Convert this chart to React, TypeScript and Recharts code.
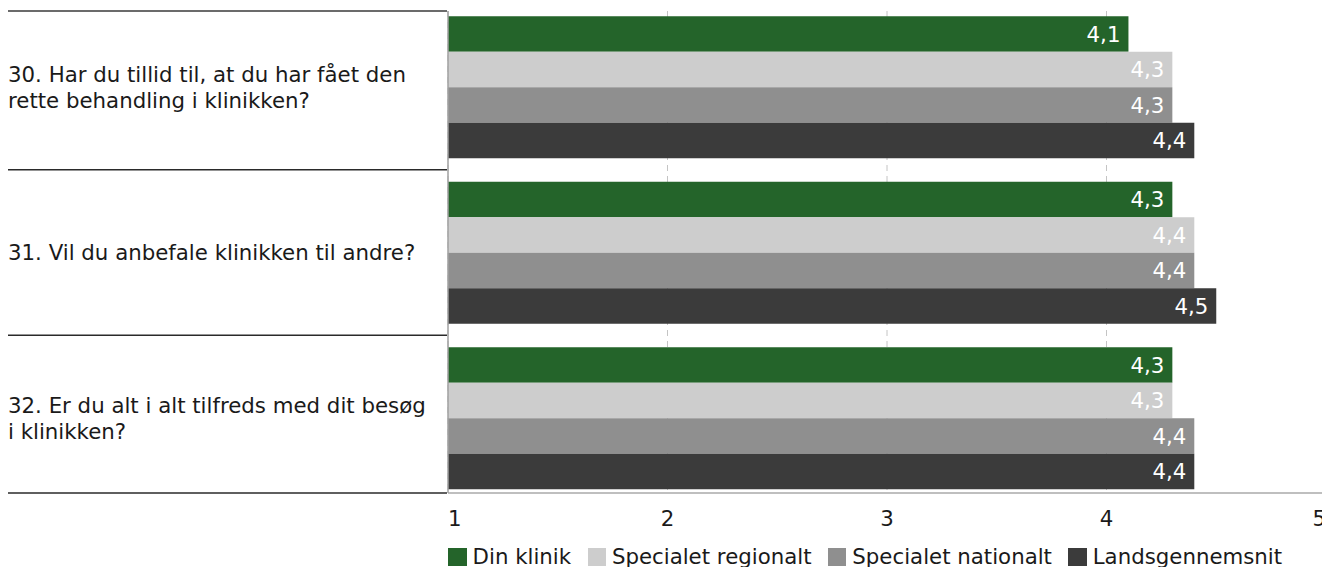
import React from "react";
import { BarChart, Bar, XAxis, YAxis, CartesianGrid, LabelList } from "recharts";

const questions = [
  "30. Har du tillid til, at du har fået den rette behandling i klinikken?",
  "31. Vil du anbefale klinikken til andre?",
  "32. Er du alt i alt tilfreds med dit besøg i klinikken?",
];
const dinKlinik = [4.1, 4.3, 4.3];
const specialetRegionalt = [4.3, 4.4, 4.3];
const specialetNationalt = [4.3, 4.4, 4.4];
const landsgennemsnit = [4.4, 4.5, 4.4];
const seriesNames = ["Din klinik", "Specialet regionalt", "Specialet nationalt", "Landsgennemsnit"];
const seriesKeys = ["din", "regional", "national", "lands"];
const xTicks = [1, 2, 3, 4, 5];

const COLORS = ["#24642a", "#cdcdcd", "#8f8f8f", "#3b3b3b"];
const FONT = "'DejaVu Sans', Verdana, sans-serif";
const FS = 21.3;
const LH = 25.7;
const CAP = 15.5;

const PLOT_TOP = 11;
const PLOT_BOTTOM = 493;
const LEFT = 448;
const PAD_TOP = 6.75;
const PAD_BOTTOM = 7.75;
const BAND = (PLOT_BOTTOM - PLOT_TOP + PAD_TOP + PAD_BOTTOM) / questions.length;

const data = questions.map((q, i) => ({
  q,
  din: dinKlinik[i],
  regional: specialetRegionalt[i],
  national: specialetNationalt[i],
  lands: landsgennemsnit[i],
}));

function wrap(s: string, max: number) {
  const lines: string[] = [];
  let cur = "";
  s.split(" ").forEach((w) => {
    const next = cur ? cur + " " + w : w;
    if (next.length > max && cur) {
      lines.push(cur);
      cur = w;
    } else cur = next;
  });
  if (cur) lines.push(cur);
  return lines;
}

const YTick = (props: any) => {
  const { y, payload, index } = props;
  const lines = wrap(String(payload.value), 42);
  const first = y - (CAP + (lines.length - 1) * LH) / 2 + CAP;
  const last = index === questions.length - 1;
  const sep = last ? PLOT_BOTTOM : y + BAND / 2;
  return (
    <g>
      {index === 0 && (
        <line x1={8} x2={LEFT - 1} y1={PLOT_TOP} y2={PLOT_TOP} stroke="#3a3a3a" strokeWidth={1.5} />
      )}
      <line x1={8} x2={LEFT - 1} y1={sep} y2={sep} stroke="#2a2a2a" strokeWidth={1.5} />
      <text x={8} fill="#1a1a1a" fontSize={FS} fontFamily={FONT} textAnchor="start">
        {lines.map((l, k) => (
          <tspan key={k} x={8} y={first + k * LH}>
            {l}
          </tspan>
        ))}
      </text>
    </g>
  );
};

const XTick = (props: any) => {
  const { x, payload, index } = props;
  const anchor = index === 0 ? "start" : index === xTicks.length - 1 ? "end" : "middle";
  return (
    <text x={x} y={526} textAnchor={anchor} fill="#1a1a1a" fontSize={FS} fontFamily={FONT}>
      {payload.value}
    </text>
  );
};

const fmt = (v: any) => Number(v).toFixed(1).replace(".", ",");

export default function App() {
  return (
    <div
      style={{
        position: "absolute",
        left: 0,
        top: 0,
        width: 1322,
        height: 567,
        overflow: "hidden",
        background: "#fff",
        fontFamily: FONT,
      }}
    >
      <BarChart
        width={1340}
        height={567}
        data={data}
        layout="vertical"
        margin={{ top: PLOT_TOP, right: 14, bottom: 567 - PLOT_BOTTOM - 40, left: 0 }}
        barCategoryGap={11.75}
        barGap={0}
        barSize={35.5}
      >
        <CartesianGrid horizontal={false} stroke="#c4c4c4" strokeDasharray="6 5" />
        <XAxis
          type="number"
          domain={[1, 5]}
          ticks={xTicks}
          height={40}
          tickLine={false}
          axisLine={{ stroke: "#aaaaaa", strokeWidth: 1.5 }}
          tick={<XTick />}
          allowDataOverflow
        />
        <XAxis
          xAxisId="top"
          orientation="top"
          type="number"
          domain={[1, 5]}
          ticks={xTicks}
          height={0}
          tick={false}
          tickLine={false}
          axisLine={{ stroke: "#aaaaaa", strokeWidth: 1.5 }}
        />
        <YAxis
          type="category"
          dataKey="q"
          width={LEFT}
          interval={0}
          padding={{ top: -PAD_TOP, bottom: -PAD_BOTTOM }}
          tickLine={false}
          axisLine={{ stroke: "#a0a0a0", strokeWidth: 1.5 }}
          tick={<YTick />}
        />
        {seriesKeys.map((k, i) => (
          <Bar key={k} dataKey={k} name={seriesNames[i]} fill={COLORS[i]} isAnimationActive={false}>
            <LabelList
              dataKey={k}
              position="insideRight"
              offset={8}
              formatter={fmt}
              fill="#ffffff"
              fontSize={FS}
              fontFamily={FONT}
            />
          </Bar>
        ))}
      </BarChart>
      <div
        style={{
          position: "absolute",
          left: 448.3,
          top: 547.7,
          display: "flex",
          alignItems: "center",
          lineHeight: "18.3px",
          fontSize: FS,
          color: "#1a1a1a",
          whiteSpace: "nowrap",
        }}
      >
        {seriesNames.map((n, i) => (
          <div key={n} style={{ display: "flex", alignItems: "center", marginRight: 16.5 }}>
            <span style={{ width: 18.3, height: 18.3, background: COLORS[i], marginRight: 6, display: "inline-block" }} />
            <span>{n}</span>
          </div>
        ))}
      </div>
    </div>
  );
}
